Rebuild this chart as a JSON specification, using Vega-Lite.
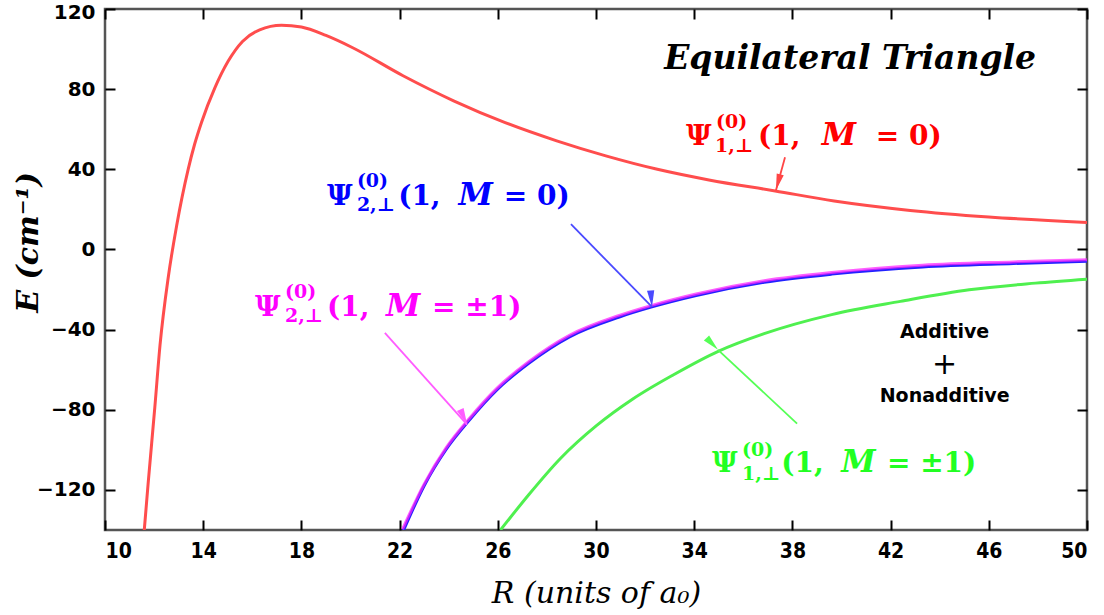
{
  "$schema": "https://vega.github.io/schema/vega-lite/v6.json",
  "width": 982,
  "height": 521,
  "autosize": {"type": "none"},
  "padding": {"left": 105, "top": 9, "right": 17, "bottom": 85},
  "background": "white",
  "config": {
    "view": {"stroke": "#555555", "strokeWidth": 2.5},
    "axis": {"grid": false, "domain": false, "tickColor": "black", "tickWidth": 2, "tickSize": -10, "labelColor": "black", "labelFont": "DejaVu Sans", "labelFontWeight": "bold", "labelFontSize": 20}
  },
  "datasets": {
    "curves": [
      {"s": "r", "R": 11.6, "E": -140}, {"s": "r", "R": 11.76, "E": -116.4}, {"s": "r", "R": 12.03, "E": -78.7}, {"s": "r", "R": 12.24, "E": -47.9}, {"s": "r", "R": 12.58, "E": -13.6}, {"s": "r", "R": 12.92, "E": 12}, {"s": "r", "R": 13.39, "E": 40.1}, {"s": "r", "R": 13.65, "E": 52.5}, {"s": "r", "R": 13.93, "E": 63.4}, {"s": "r", "R": 14.47, "E": 80.5}, {"s": "r", "R": 15.02, "E": 94.0}, {"s": "r", "R": 15.6, "E": 103.8}, {"s": "r", "R": 16.3, "E": 109.6}, {"s": "r", "R": 17.19, "E": 111.9}, {"s": "r", "R": 18.0, "E": 111.0}, {"s": "r", "R": 19.0, "E": 106.8}, {"s": "r", "R": 20.07, "E": 100.8}, {"s": "r", "R": 22.14, "E": 86.7}, {"s": "r", "R": 24.2, "E": 74.2}, {"s": "r", "R": 26.3, "E": 63.3}, {"s": "r", "R": 28.4, "E": 54.2}, {"s": "r", "R": 30.4, "E": 46.7}, {"s": "r", "R": 32.5, "E": 40.0}, {"s": "r", "R": 34.6, "E": 34.7}, {"s": "r", "R": 37.3, "E": 29.2}, {"s": "r", "R": 39.7, "E": 24.2}, {"s": "r", "R": 42.8, "E": 19.5}, {"s": "r", "R": 46.0, "E": 16.2}, {"s": "r", "R": 50.0, "E": 13.5},
      {"s": "g", "R": 26.11, "E": -140}, {"s": "g", "R": 27.26, "E": -122.4}, {"s": "g", "R": 28.55, "E": -104.3}, {"s": "g", "R": 30.03, "E": -87.8}, {"s": "g", "R": 31.5, "E": -74.6}, {"s": "g", "R": 33.16, "E": -62.5}, {"s": "g", "R": 35.0, "E": -50.7}, {"s": "g", "R": 36.85, "E": -42.0}, {"s": "g", "R": 39.6, "E": -32.5}, {"s": "g", "R": 42.4, "E": -25.9}, {"s": "g", "R": 45.2, "E": -20.1}, {"s": "g", "R": 47.9, "E": -16.8}, {"s": "g", "R": 50.0, "E": -14.8},
      {"s": "b", "R": 22.15, "E": -140.4}, {"s": "b", "R": 23.0, "E": -117.9}, {"s": "b", "R": 23.9, "E": -99.7}, {"s": "b", "R": 24.86, "E": -84.9}, {"s": "b", "R": 25.97, "E": -70.0}, {"s": "b", "R": 27.26, "E": -56.8}, {"s": "b", "R": 28.92, "E": -43.6}, {"s": "b", "R": 30.95, "E": -33.7}, {"s": "b", "R": 32.24, "E": -28.8}, {"s": "b", "R": 34.08, "E": -23.0}, {"s": "b", "R": 36.85, "E": -16.4}, {"s": "b", "R": 39.6, "E": -12.3}, {"s": "b", "R": 43.3, "E": -8.7}, {"s": "b", "R": 47.0, "E": -7.0}, {"s": "b", "R": 50.0, "E": -5.9},
      {"s": "m", "R": 22.12, "E": -139.6}, {"s": "m", "R": 23.0, "E": -117.1}, {"s": "m", "R": 23.9, "E": -98.9}, {"s": "m", "R": 24.86, "E": -84.1}, {"s": "m", "R": 25.97, "E": -69.2}, {"s": "m", "R": 27.26, "E": -56.0}, {"s": "m", "R": 28.92, "E": -42.8}, {"s": "m", "R": 30.95, "E": -32.9}, {"s": "m", "R": 32.24, "E": -28.0}, {"s": "m", "R": 34.08, "E": -22.2}, {"s": "m", "R": 36.85, "E": -15.6}, {"s": "m", "R": 39.6, "E": -11.5}, {"s": "m", "R": 43.3, "E": -7.9}, {"s": "m", "R": 47.0, "E": -6.2}, {"s": "m", "R": 50.0, "E": -5.1}
    ],
    "arrows": [
      {"a": "r", "R1": 37.7, "E1": 46.0, "R2": 37.33, "E2": 29.5},
      {"a": "b", "R1": 28.98, "E1": 12.6, "R2": 32.28, "E2": -28.7},
      {"a": "m", "R1": 21.4, "E1": -41.6, "R2": 24.75, "E2": -87.4},
      {"a": "g", "R1": 38.19, "E1": -86.9, "R2": 34.97, "E2": -50.1}
    ],
    "labels": [
      {"g": "r", "k": "big", "t": "Ψ", "R": 33.67, "E": 51.96},
      {"g": "r", "k": "small", "t": "(0)", "R": 34.89, "E": 60.42},
      {"g": "r", "k": "small", "t": "1,⊥", "R": 34.85, "E": 48.47},
      {"g": "r", "k": "big", "t": "(1,", "R": 36.6, "E": 51.96},
      {"g": "r", "k": "it", "t": "M", "R": 39.2, "E": 51.96},
      {"g": "r", "k": "big", "t": "= 0)", "R": 41.4, "E": 51.96},
      {"g": "b", "k": "big", "t": "Ψ", "R": 19.04, "E": 22.09},
      {"g": "b", "k": "small", "t": "(0)", "R": 20.26, "E": 31.05},
      {"g": "b", "k": "small", "t": "2,⊥", "R": 20.26, "E": 19.1},
      {"g": "b", "k": "big", "t": "(1,", "R": 21.94, "E": 22.09},
      {"g": "b", "k": "it", "t": "M", "R": 24.4, "E": 22.09},
      {"g": "b", "k": "big", "t": "= 0)", "R": 26.24, "E": 22.09},
      {"g": "m", "k": "big", "t": "Ψ", "R": 16.11, "E": -33.16},
      {"g": "m", "k": "small", "t": "(0)", "R": 17.33, "E": -24.2},
      {"g": "m", "k": "small", "t": "2,⊥", "R": 17.33, "E": -36.1},
      {"g": "m", "k": "big", "t": "(1,", "R": 19.04, "E": -33.16},
      {"g": "m", "k": "it", "t": "M", "R": 21.45, "E": -33.16},
      {"g": "m", "k": "big", "t": "= ±1)", "R": 23.32, "E": -33.16},
      {"g": "g", "k": "big", "t": "Ψ", "R": 34.73, "E": -111.3},
      {"g": "g", "k": "small", "t": "(0)", "R": 35.95, "E": -102.9},
      {"g": "g", "k": "small", "t": "1,⊥", "R": 35.95, "E": -114.8},
      {"g": "g", "k": "big", "t": "(1,", "R": 37.55, "E": -111.3},
      {"g": "g", "k": "it", "t": "M", "R": 39.99, "E": -111.3},
      {"g": "g", "k": "big", "t": "= ±1)", "R": 41.85, "E": -111.3}
    ],
    "notes": [
      {"k": "title", "t": "Equilateral Triangle", "R": 40.35, "E": 90.3},
      {"k": "word", "t": "Additive", "R": 44.2, "E": -44.1},
      {"k": "plus", "t": "+", "R": 44.2, "E": -62.0},
      {"k": "word", "t": "Nonadditive", "R": 44.2, "E": -76.0}
    ]
  },
  "layer": [
    {
      "data": {"name": "curves"},
      "transform": [{"filter": "datum.s !== 'm'"}],
      "mark": {"type": "line", "strokeWidth": 3, "interpolate": "monotone", "clip": true},
      "encoding": {
        "x": {"field": "R", "type": "quantitative", "scale": {"domain": [10, 50], "nice": false, "zero": false},
          "axis": {"orient": "bottom", "values": [10, 14, 18, 22, 26, 30, 34, 38, 42, 46, 50], "labelPadding": 20, "labelFont": "DejaVu Sans Condensed, DejaVu Sans", "labelFontSize": 21,
            "title": "R (units of a₀)", "titleFont": "DejaVu Serif", "titleFontStyle": "italic", "titleFontWeight": "normal", "titleFontSize": 30, "titleY": 72, "titleBaseline": "alphabetic", "titleColor": "black"}},
        "y": {"field": "E", "type": "quantitative", "scale": {"domain": [-140, 120], "nice": false, "zero": false},
          "axis": {"orient": "left", "values": [-120, -80, -40, 0, 40, 80, 120], "labelPadding": 20,
            "labelOffset": {"condition": {"test": "datum.value === 120", "value": 3}, "value": 0},
            "title": "E (cm⁻¹)", "titleFont": "DejaVu Serif", "titleFontStyle": "italic", "titleFontWeight": "bold", "titleFontSize": 30, "titleX": -68, "titleY": 233, "titleAngle": -90, "titleAlign": "center", "titleBaseline": "alphabetic", "titleColor": "black"}},
        "color": {"field": "s", "type": "nominal", "scale": {"domain": ["r", "g", "b"], "range": ["#ff4d4d", "#4ff04f", "#2222ff"]}, "legend": null},
        "order": {"field": "R", "type": "quantitative"}
      }
    },
    {
      "data": {"name": "curves"},
      "transform": [{"filter": "datum.s === 'm'"}],
      "mark": {"type": "line", "strokeWidth": 3, "interpolate": "monotone", "clip": true, "color": "#ff22ff", "opacity": 0.72},
      "encoding": {
        "x": {"field": "R", "type": "quantitative", "axis": {"orient": "top", "values": [10, 14, 18, 22, 26, 30, 34, 38, 42, 46, 50], "labels": false, "title": null}},
        "y": {"field": "E", "type": "quantitative", "axis": {"orient": "right", "values": [-120, -80, -40, 0, 40, 80, 120], "labels": false, "title": null}},
        "order": {"field": "R", "type": "quantitative"}
      }
    },
    {
      "data": {"name": "arrows"},
      "mark": {"type": "rule", "strokeWidth": 1.8},
      "encoding": {
        "x": {"field": "R1", "type": "quantitative", "axis": null},
        "y": {"field": "E1", "type": "quantitative", "axis": null},
        "x2": {"field": "R2"},
        "y2": {"field": "E2"},
        "color": {"field": "a", "type": "nominal", "scale": {"domain": ["r", "b", "m", "g"], "range": ["#ff4545", "#4a4aff", "#ff5cff", "#55ff55"]}, "legend": null}
      }
    },
    {
      "data": {"name": "arrows"},
      "mark": {"type": "point", "shape": "M0,0L0.22,1L-0.22,1Z", "filled": true, "opacity": 1, "size": 1100, "strokeWidth": 0},
      "encoding": {
        "x": {"field": "R2", "type": "quantitative", "axis": null},
        "y": {"field": "E2", "type": "quantitative", "axis": null},
        "color": {"field": "a", "type": "nominal", "scale": {"domain": ["r", "b", "m", "g"], "range": ["#ff4545", "#4a4aff", "#ff5cff", "#55ff55"]}, "legend": null},
        "angle": {"field": "a", "type": "nominal", "scale": {"domain": ["r", "b", "m", "g"], "range": [195, 136, 138, 313]}, "legend": null}
      }
    },
    {
      "data": {"name": "labels"},
      "transform": [{"filter": "datum.k === 'big'"}],
      "mark": {"type": "text", "font": "DejaVu Serif", "fontWeight": "bold", "fontSize": 28, "align": "left", "baseline": "alphabetic"},
      "encoding": {
        "x": {"field": "R", "type": "quantitative", "axis": null},
        "y": {"field": "E", "type": "quantitative", "axis": null},
        "text": {"field": "t"},
        "color": {"field": "g", "type": "nominal", "scale": {"domain": ["r", "b", "m", "g"], "range": ["#ff0000", "#0000ff", "#ff00ff", "#22ff22"]}, "legend": null}
      }
    },
    {
      "data": {"name": "labels"},
      "transform": [{"filter": "datum.k === 'small'"}],
      "mark": {"type": "text", "font": "DejaVu Serif", "fontWeight": "bold", "fontSize": 19, "align": "left", "baseline": "alphabetic"},
      "encoding": {
        "x": {"field": "R", "type": "quantitative", "axis": null},
        "y": {"field": "E", "type": "quantitative", "axis": null},
        "text": {"field": "t"},
        "color": {"field": "g", "type": "nominal", "scale": {"domain": ["r", "b", "m", "g"], "range": ["#ff0000", "#0000ff", "#ff00ff", "#22ff22"]}, "legend": null}
      }
    },
    {
      "data": {"name": "labels"},
      "transform": [{"filter": "datum.k === 'it'"}],
      "mark": {"type": "text", "font": "DejaVu Serif", "fontWeight": "bold", "fontStyle": "italic", "fontSize": 31, "align": "left", "baseline": "alphabetic"},
      "encoding": {
        "x": {"field": "R", "type": "quantitative", "axis": null},
        "y": {"field": "E", "type": "quantitative", "axis": null},
        "text": {"field": "t"},
        "color": {"field": "g", "type": "nominal", "scale": {"domain": ["r", "b", "m", "g"], "range": ["#ff0000", "#0000ff", "#ff00ff", "#22ff22"]}, "legend": null}
      }
    },
    {
      "data": {"name": "notes"},
      "transform": [{"filter": "datum.k === 'title'"}],
      "mark": {"type": "text", "font": "DejaVu Serif", "fontWeight": "bold", "fontStyle": "italic", "fontSize": 33, "align": "center", "baseline": "alphabetic", "color": "black"},
      "encoding": {
        "x": {"field": "R", "type": "quantitative", "axis": null},
        "y": {"field": "E", "type": "quantitative", "axis": null},
        "text": {"field": "t"}
      }
    },
    {
      "data": {"name": "notes"},
      "transform": [{"filter": "datum.k === 'word'"}],
      "mark": {"type": "text", "font": "DejaVu Sans", "fontWeight": "bold", "fontSize": 19, "align": "center", "baseline": "alphabetic", "color": "black"},
      "encoding": {
        "x": {"field": "R", "type": "quantitative", "axis": null},
        "y": {"field": "E", "type": "quantitative", "axis": null},
        "text": {"field": "t"}
      }
    },
    {
      "data": {"name": "notes"},
      "transform": [{"filter": "datum.k === 'plus'"}],
      "mark": {"type": "text", "font": "DejaVu Sans", "fontSize": 30, "align": "center", "baseline": "alphabetic", "color": "black"},
      "encoding": {
        "x": {"field": "R", "type": "quantitative", "axis": null},
        "y": {"field": "E", "type": "quantitative", "axis": null},
        "text": {"field": "t"}
      }
    }
  ],
  "resolve": {"scale": {"color": "independent"}, "axis": {"x": "independent", "y": "independent"}}
}
